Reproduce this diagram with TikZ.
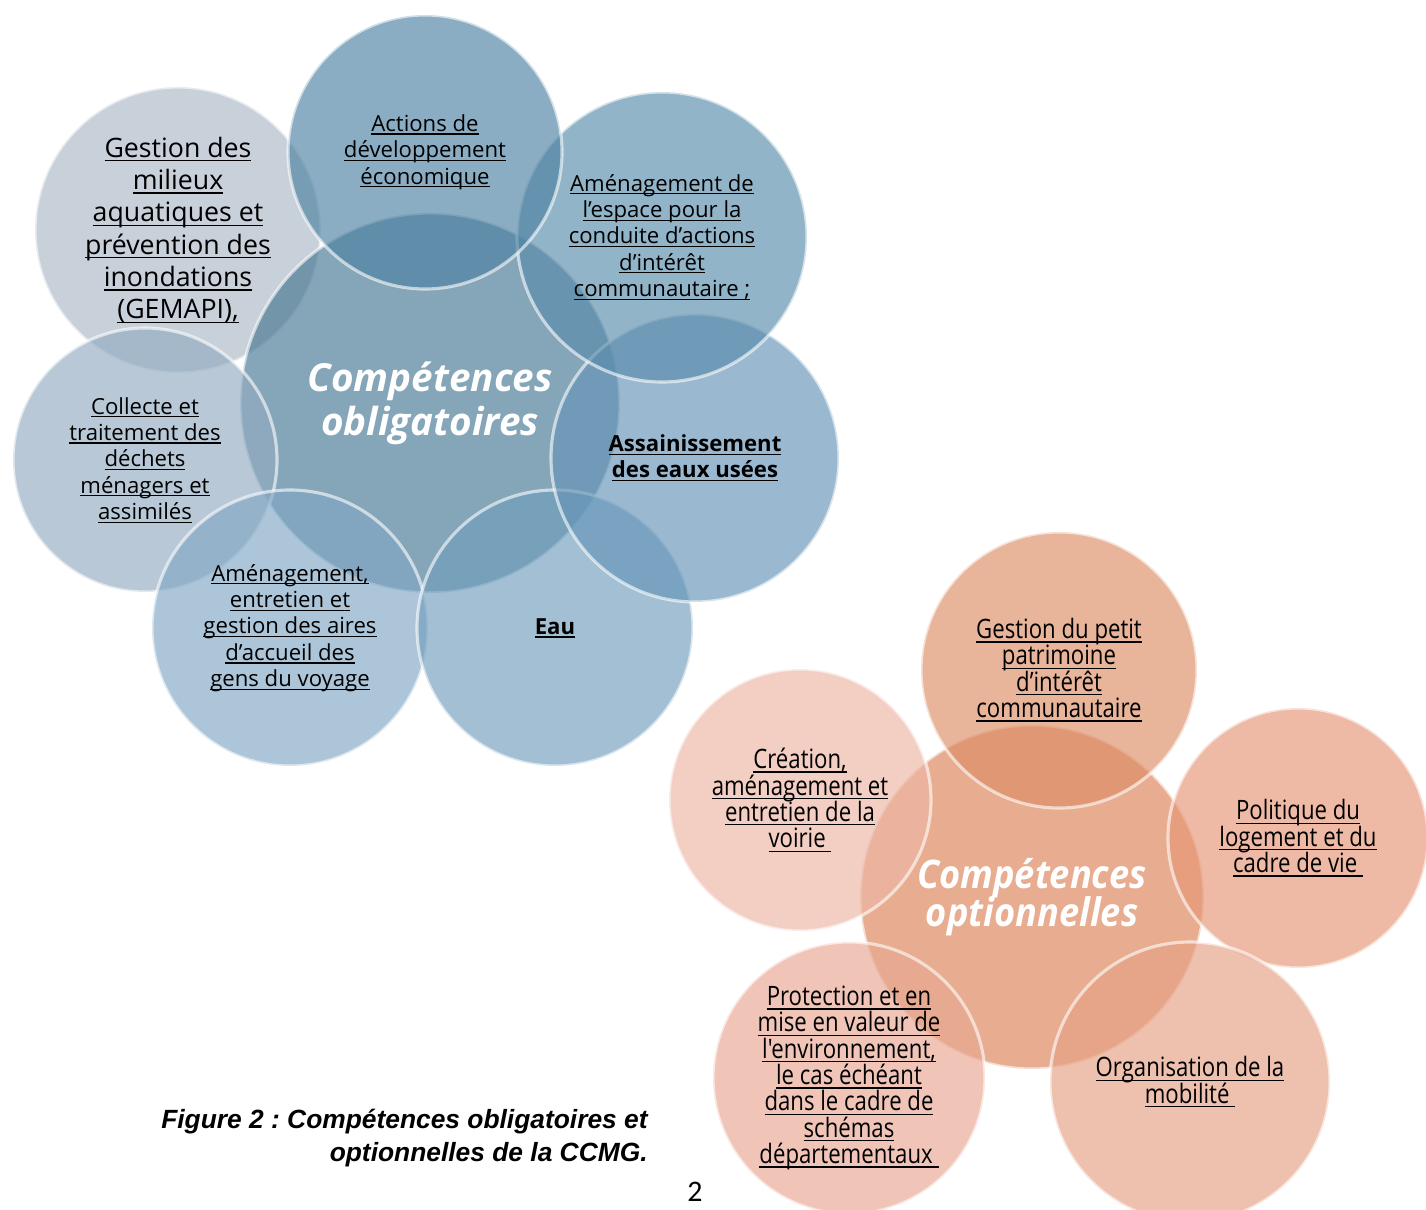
\documentclass[tikz,border=0pt]{standalone}
\usepackage{fontspec}
\usepackage{tikz}
\usepackage{xcolor}
\setmainfont{Open Sans}
\newfontfamily\legendefont{Liberation Sans}
\newfontfamily\etroitfont{Open Sans}[FakeStretch=0.83]
\newfontfamily\titreoptfont{Open Sans}[FakeStretch=0.92]
\newfontfamily\pagefont{Carlito}
\frenchspacing
% soulignement a profondeur fixe
\newcommand\souligne[1]{\setbox0=\hbox{#1}\rlap{\rule[-0.15em]{\wd0}{0.35pt}}\box0}
% interligne fixe
\newcommand\serre{\lineskiplimit=-5pt\relax}
% bleus (couleur pleine, posee a 65 %)
\definecolor{bleuCentre}{HTML}{457692}
\definecolor{bleuEco}{HTML}{4D82A3}
\definecolor{bleuEspace}{HTML}{598CAC}
\definecolor{bleuAssain}{HTML}{6595B7}
\definecolor{bleuEau}{HTML}{719EBE}
\definecolor{bleuAires}{HTML}{81A7C5}
\definecolor{bleuDechets}{HTML}{93ACC1}
\definecolor{grisGemapi}{HTML}{ACB8C5}
% oranges
\definecolor{orCentre}{HTML}{DC8257}
\definecolor{orPatrimoine}{HTML}{DD8C64}
\definecolor{orLogement}{HTML}{E59675}
\definecolor{orMobilite}{HTML}{E6A084}
\definecolor{orEnvironnement}{HTML}{E9A792}
\definecolor{orVoirie}{HTML}{EDB5A4}

\begin{document}
\begin{tikzpicture}[bulle/.style={circle, inner sep=0pt, align=center, fill opacity=0.65, text opacity=1, draw=white, draw opacity=0.6, line width=0.9pt},
    petit/.style={font=\fontsize{6.3}{7.5}\selectfont\serre},
    etroit/.style={font=\etroitfont\fontsize{7.6}{7.5}\selectfont\serre}]

        \clip (0,0) rectangle (14.26,-12.10);
        \fill[white] (0,0) rectangle (14.26,-12.10);

        % competences obligatoires
        \node[bulle, fill=grisGemapi, minimum size=2.86cm, font=\fontsize{7.6}{9.2}\selectfont] (gemapi) at (1.78,-2.30) {\souligne{Gestion des}\\ \souligne{milieux}\\ \souligne{aquatiques et}\\ \souligne{prévention des}\\ \souligne{inondations}\\ \souligne{(GEMAPI),}};
        \node[bulle, fill=bleuCentre, minimum size=3.80cm, text=white, font=\bfseries\itshape\fontsize{11}{12.5}\selectfont] (oblig) at (4.30,-4.03) {Compétences\\ obligatoires};
        \node[bulle, petit, fill=bleuDechets, minimum size=2.64cm] (dechets) at (1.45,-4.60) {\souligne{Collecte et}\\ \souligne{traitement des}\\ \souligne{déchets}\\ \souligne{ménagers et}\\ \souligne{assimilés}};
        \node[bulle, petit, fill=bleuAires, minimum size=2.76cm] (aires) at (2.90,-6.28) {\souligne{Aménagement,}\\ \souligne{entretien et}\\ \souligne{gestion des aires}\\ \souligne{d’accueil des}\\ \souligne{gens du voyage}};
        \node[bulle, petit, fill=bleuEau, minimum size=2.76cm, font=\bfseries\fontsize{6.3}{7.5}\selectfont] (eau) at (5.55,-6.28) {\souligne{Eau}};
        \node[bulle, petit, fill=bleuAssain, minimum size=2.88cm, font=\bfseries\fontsize{6.3}{7.5}\selectfont] (assain) at (6.95,-4.58) {\souligne{Assainissement}\\ \souligne{des eaux usées}};
        \node[bulle, petit, fill=bleuEspace, minimum size=2.90cm] (espace) at (6.62,-2.37) {\souligne{Aménagement de}\\ \souligne{l’espace pour la}\\ \souligne{conduite d’actions}\\ \souligne{d’intérêt}\\ \souligne{communautaire ;}};
        \node[bulle, petit, fill=bleuEco, minimum size=2.74cm] (eco) at (4.25,-1.52) {\souligne{Actions de}\\ \souligne{développement}\\ \souligne{économique}};

        % competences optionnelles
        \node[bulle, fill=orCentre, minimum size=3.44cm, text=white, font=\titreoptfont\bfseries\itshape\fontsize{11.2}{10.8}\selectfont\serre] (option) at (10.32,-8.97) {Compétences\\ optionnelles};
        \node[bulle, etroit, fill=orVoirie, minimum size=2.62cm] (voirie) at (8.00,-8.00) {\souligne{Création,}\\ \souligne{aménagement et}\\ \souligne{entretien de la}\\ \souligne{voirie\ }};
        \node[bulle, etroit, fill=orEnvironnement, minimum size=2.72cm] (environnement) at (8.49,-10.78) {\souligne{Protection et en}\\ \souligne{mise en valeur de}\\ \souligne{l'environnement,}\\ \souligne{le cas échéant}\\ \souligne{dans le cadre de}\\ \souligne{schémas}\\ \souligne{départementaux\ }};
        \node[bulle, etroit, fill=orPatrimoine, minimum size=2.76cm] (patrimoine) at (10.59,-6.70) {\souligne{Gestion du petit}\\ \souligne{patrimoine}\\ \souligne{d’intérêt}\\ \souligne{communautaire}};
        \node[bulle, etroit, fill=orLogement, minimum size=2.60cm] (logement) at (12.98,-8.38) {\souligne{Politique du}\\ \souligne{logement et du}\\ \souligne{cadre de vie\ }};
        \node[bulle, etroit, fill=orMobilite, minimum size=2.80cm] (mobilite) at (11.90,-10.82) {\souligne{Organisation de la}\\ \souligne{mobilité\ }};

        \node[align=right, anchor=east, font=\legendefont\bfseries\itshape\fontsize{7.5}{9.4}\selectfont] (legende) at (6.60,-11.38) {Figure 2 : Compétences obligatoires et\\ optionnelles de la CCMG.};
        \node[font=\pagefont\fontsize{8.5}{10}\selectfont] (page) at (6.95,-11.92) {2};

    \end{tikzpicture}
\end{document}
